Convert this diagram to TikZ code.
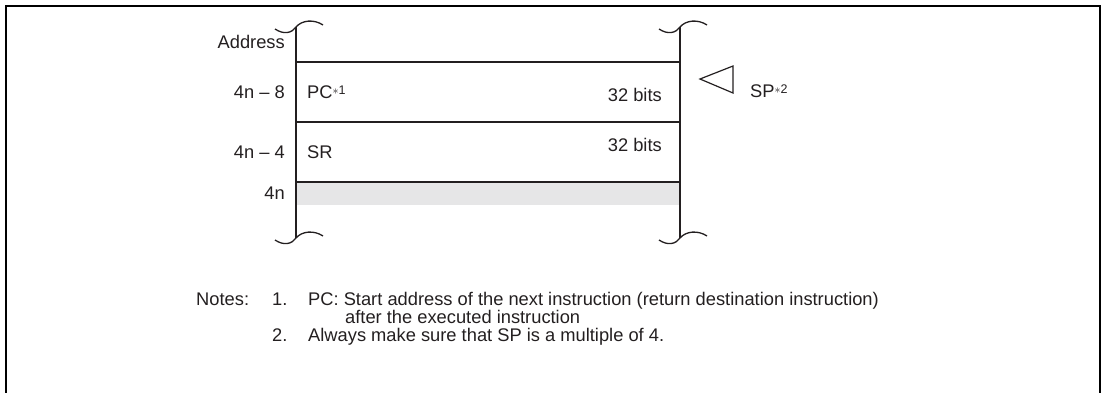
\documentclass[tikz,border=0pt]{standalone}
\usepackage{fontspec}
\setmainfont{Liberation Sans}
\definecolor{cellgray}{HTML}{E6E6E7}
\definecolor{ink}{HTML}{231F20}
\newcommand{\mynote}[1]{\raisebox{0.4ex}{\fontsize{12.5}{12.5}\selectfont$\ast$#1}}
\begin{document}
\begin{tikzpicture}[x=1pt,y=-1pt,
  txt/.style={inner sep=0pt,font=\fontsize{18.3}{22}\selectfont,text=ink},
  rtxt/.style={txt,anchor=base east},
  ltxt/.style={txt,anchor=base west},
  wall/.style={line width=2.2pt,draw=ink},
  cellline/.style={line width=1.2pt,draw=ink},
  squig/.style={line width=1.3pt,draw=ink},
  frame/.style={line width=2.6pt,draw=black}]
\useasboundingbox (0,0) rectangle (1103,392);
% frame (open at the bottom)
\draw[frame] (6,400) -- (6,6) -- (1100,6) -- (1100,400);
% gray cell
\fill[cellgray] (296,182) rectangle (680,205);
% cell separators
\coordinate (l1) at (296,62); \coordinate (r1) at (680,62);
\coordinate (l2) at (296,122); \coordinate (r2) at (680,122);
\coordinate (l3) at (296,182); \coordinate (r3) at (680,182);
\draw[cellline] (l1) -- (r1);
\draw[cellline] (l2) -- (r2);
\draw[cellline] (l3) -- (r3);
% walls
\coordinate (lt) at (296,27); \coordinate (lb) at (296,238);
\coordinate (rt) at (680,27); \coordinate (rb) at (680,238);
\draw[wall] (lt) -- (lb);
\draw[wall] (rt) -- (rb);
% squiggles
\foreach \p in {lt,rt,lb,rb}{
  \draw[squig] ([xshift=-21pt,yshift=-2pt]\p) .. controls ([xshift=-12pt,yshift=-8pt]\p) and ([xshift=-4pt,yshift=-6pt]\p) .. (\p)
    .. controls ([xshift=6pt,yshift=7pt]\p) and ([xshift=18pt,yshift=8pt]\p) .. ([xshift=27pt,yshift=2pt]\p);
}
% address labels
\node[rtxt] (addr) at (285,48) {Address};
\node[rtxt] (a8) at (285,98) {4n -- 8};
\node[rtxt] (a4) at (285,158) {4n -- 4};
\node[rtxt] (a0) at (285,199) {4n};
% cell contents
\node[ltxt] (pc) at (307,98) {PC\mynote{1}};
\node[rtxt] (b1) at (662,101) {32 bits};
\node[ltxt] (sr) at (307,158) {SR};
\node[rtxt] (b2) at (662,151) {32 bits};
% SP pointer
\draw[line width=1.2pt,draw=ink,line join=miter] (733,66) -- (700,79) -- (733,93) -- cycle;
\node[ltxt] (sp) at (750,97) {SP\mynote{2}};
% notes
\node[ltxt] (notes) at (196,305) {Notes:};
\node[ltxt] (n1) at (272,305) {1.};
\node[ltxt] (t1) at (308,305) {PC: Start address of the next instruction (return destination instruction)};
\node[ltxt] (t1b) at (345,323) {after the executed instruction};
\node[ltxt] (n2) at (272,341) {2.};
\node[ltxt] (t2) at (308,341) {Always make sure that SP is a multiple of 4.};
\end{tikzpicture}
\end{document}
